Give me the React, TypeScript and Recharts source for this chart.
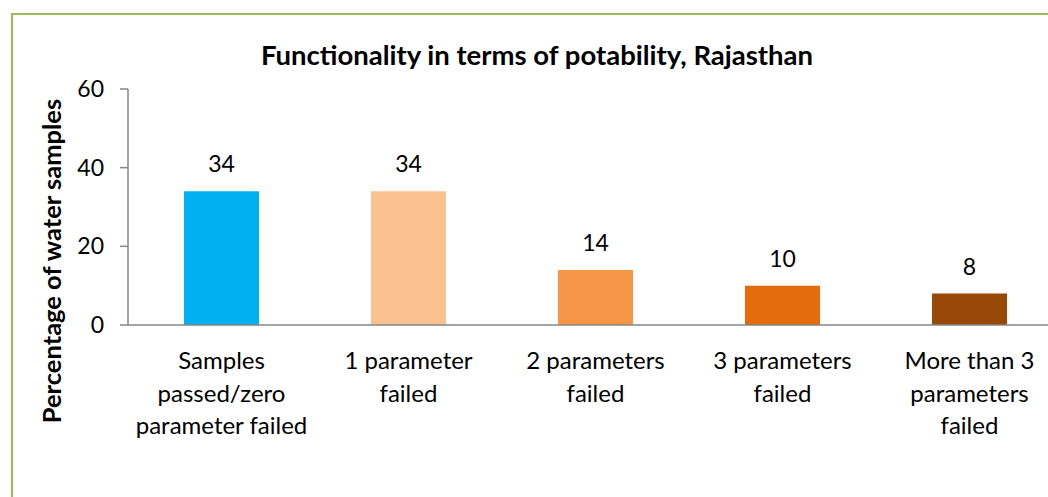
import React from "react";
import { BarChart, Bar, XAxis, YAxis, Cell, LabelList } from "recharts";

const categories = [
  "Samples passed/zero parameter failed",
  "1 parameter failed",
  "2 parameters failed",
  "3 parameters failed",
  "More than 3 parameters failed",
];
const tickLines = [
  ["Samples", "passed/zero", "parameter failed"],
  ["1 parameter", "failed"],
  ["2 parameters", "failed"],
  ["3 parameters", "failed"],
  ["More than 3", "parameters", "failed"],
];
const values = [34, 34, 14, 10, 8];
const colors = ["#00B0F0", "#FAC090", "#F79646", "#E46C0A", "#984807"];
const yTicks = [0, 20, 40, 60];

const data = categories.map((c, i) => ({ name: c, value: values[i], idx: i }));

const FONT = "Lato, 'Open Sans', sans-serif";

const XTick = (props: any) => {
  const { x, y, index } = props;
  const lines = tickLines[index] || [];
  return (
    <g transform={`translate(${x},${y})`}>
      <text textAnchor="middle" fontFamily={FONT} fontSize={24} fill="#000">
        {lines.map((l: string, i: number) => (
          <tspan key={i} x={0} y={36 + i * 32.5}>
            {l}
          </tspan>
        ))}
      </text>
    </g>
  );
};

export default function App() {
  return (
    <div
      style={{
        position: "fixed",
        left: 0,
        top: 0,
        width: 1048,
        height: 497,
        overflow: "hidden",
        background: "#fff",
      }}
    >
      <div
        style={{
          position: "absolute",
          left: 11,
          top: 13,
          width: 1200,
          height: 700,
          borderTop: "2px solid #9BBB59",
          borderLeft: "2px solid #9BBB59",
        }}
      />
      <div
        style={{
          position: "absolute",
          left: 0,
          top: 38,
          width: 1074,
          textAlign: "center",
          fontFamily: FONT,
          fontWeight: 700,
          fontSize: 27.5,
          lineHeight: "33px",
          color: "#000",
          whiteSpace: "nowrap",
        }}
      >
        Functionality in terms of potability, Rajasthan
      </div>
      <div
        style={{
          position: "absolute",
          left: 51,
          top: 261,
          transform: "translate(-50%,-50%) rotate(-90deg)",
          fontFamily: FONT,
          fontWeight: 700,
          fontSize: 25.5,
          lineHeight: "30px",
          color: "#000",
          whiteSpace: "nowrap",
        }}
      >
        Percentage of water samples
      </div>
      <div style={{ position: "absolute", left: 0, top: 0 }}>
        <BarChart
          width={1063}
          height={497}
          data={data}
          margin={{ top: 89, right: 0, bottom: 0, left: 0 }}
        >
          <XAxis
            dataKey="name"
            interval={0}
            tickLine={false}
            axisLine={{ stroke: "#868686", strokeWidth: 1.5 }}
            height={172}
            tick={<XTick />}
          />
          <YAxis
            domain={[0, 60]}
            ticks={yTicks}
            width={128}
            tickSize={8}
            tickMargin={16}
            axisLine={{ stroke: "#868686", strokeWidth: 1.5 }}
            tickLine={{ stroke: "#868686", strokeWidth: 1.5 }}
            tick={{ fontFamily: FONT, fontSize: 23, fill: "#000" }}
          />
          <Bar dataKey="value" barSize={75} isAnimationActive={false}>
            {data.map((d, i) => (
              <Cell key={i} fill={colors[i]} />
            ))}
            <LabelList
              dataKey="value"
              position="top"
              offset={19}
              style={{ fontFamily: FONT, fontSize: 23, fill: "#000" }}
            />
          </Bar>
        </BarChart>
      </div>
    </div>
  );
}
